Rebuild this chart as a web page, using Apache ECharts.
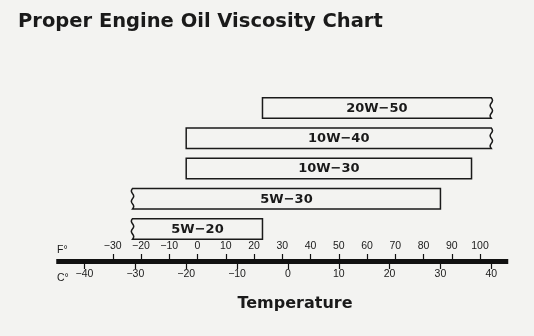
<!DOCTYPE html>
<html>
<head>
<meta charset="utf-8">
<script src="https://cdn.jsdelivr.net/npm/echarts@6/dist/echarts.min.js"></script>
<style>
  html, body { margin: 0; padding: 0; background: #f3f3f1; }
  #chart { width: 534px; height: 336px; }
</style>
</head>
<body>
<div id="chart"></div>
<script>
// Oil grades, listed bottom row first
const grades = ['5W-20', '5W-30', '10W-30', '10W-40', '20W-50'];
// Recommended ambient temperature range for each grade, in °F
const lowF  = [-23, -23, -4, -4, 23];
const highF = [23, 86, 97, 104, 104];
// Ranges that keep going past the drawn end (shown with a wavy edge)
const openLow  = [true, true, false, false, false];
const openHigh = [false, false, false, true, true];

// Scale labels
const fahrenheitTicks = [-30, -20, -10, 0, 10, 20, 30, 40, 50, 60, 70, 80, 90, 100];
const celsiusTicks = [-40, -30, -20, -10, 0, 10, 20, 30, 40];

// Visible temperature span of the scale, in °F
const spanF = [-50, 110];
const toC = f => (f - 32) / 1.8;

const INK = '#1a1a1a';
const LEFT = 56.25, WIDTH = 452;

function fmt(v) {
  return v < 0 ? '\u2212' + Math.abs(v) : String(v);
}

const rows = grades.map((g, i) => [i, lowF[i], highF[i], openLow[i] ? 1 : 0, openHigh[i] ? 1 : 0, g]);

// Wavy vertical edge from (x, yA) to (x, yB)
function wavyEdge(x, yA, yB, amp) {
  const pts = [];
  const n = 16;
  for (let k = 0; k <= n; k++) {
    const t = k / n;
    pts.push([x + amp * Math.sin(t * Math.PI * 4), yA + (yB - yA) * t]);
  }
  return pts;
}

function renderBar(params, api) {
  const row = api.value(0);
  const p0 = api.coord([api.value(1), row]);
  const p1 = api.coord([api.value(2), row]);
  const bandH = api.size([0, 1])[1];
  const h = bandH * 0.68;
  const top = p0[1] - h / 2, bottom = p0[1] + h / 2;
  const xl = p0[0], xr = p1[0];
  let pts = [[xl, top], [xr, top]];
  if (api.value(4)) pts = pts.concat(wavyEdge(xr, top, bottom, 1.2));
  else pts.push([xr, bottom]);
  pts.push([xl, bottom]);
  if (api.value(3)) pts = pts.concat(wavyEdge(xl, bottom, top, 1.2));
  return {
    type: 'group',
    children: [
      {
        type: 'polygon',
        shape: { points: pts },
        style: { fill: 'none', stroke: INK, lineWidth: 1.5, lineJoin: 'miter' }
      },
      {
        type: 'text',
        style: {
          x: (xl + xr) / 2,
          y: p0[1] + 0.5,
          text: grades[row].replace('-', '\u2212'),
          fontFamily: 'DejaVu Sans',
          fontWeight: 'bold',
          fontSize: 13,
          fill: INK,
          align: 'center',
          verticalAlign: 'middle'
        }
      }
    ]
  };
}

const chart = echarts.init(document.getElementById('chart'));
chart.setOption({
  backgroundColor: '#f3f3f1',
  animation: false,
  grid: [
    { left: LEFT, width: WIDTH, top: 93, height: 151 },
    { left: LEFT, width: WIDTH, top: 200, height: 61 }
  ],
  xAxis: [
    { gridIndex: 0, type: 'value', min: spanF[0], max: spanF[1], show: false },
    {
      gridIndex: 1, type: 'value', position: 'bottom',
      min: spanF[0], max: spanF[1],
      splitLine: { show: false },
      axisLine: { show: true, lineStyle: { color: '#111', width: 5, cap: 'butt' } },
      axisTick: { show: true, inside: true, length: 7, customValues: fahrenheitTicks,
                  lineStyle: { color: '#111', width: 1.2 } },
      axisLabel: { show: true, inside: true, margin: 9, customValues: fahrenheitTicks,
                   formatter: fmt, color: INK, fontSize: 10.5, fontFamily: 'Liberation Sans' }
    },
    {
      gridIndex: 1, type: 'value', position: 'bottom',
      min: toC(spanF[0]), max: toC(spanF[1]),
      splitLine: { show: false },
      axisLine: { show: false },
      axisTick: { show: true, inside: false, length: 8, customValues: celsiusTicks,
                  lineStyle: { color: '#111', width: 1.2 } },
      axisLabel: { show: true, inside: false, margin: 8, customValues: celsiusTicks,
                   formatter: fmt, color: INK, fontSize: 10.5, fontFamily: 'Liberation Sans' }
    }
  ],
  yAxis: [
    { gridIndex: 0, type: 'category', data: grades, show: false },
    { gridIndex: 1, type: 'value', show: false }
  ],
  series: [{
    type: 'custom',
    xAxisIndex: 0,
    yAxisIndex: 0,
    renderItem: renderBar,
    encode: { x: [1, 2], y: 0 },
    data: rows
  }],
  graphic: [
    {
      type: 'text', left: 18, top: 12,
      style: { text: 'Proper Engine Oil Viscosity Chart', fontFamily: 'DejaVu Sans',
               fontWeight: 'bold', fontSize: 19.5, fill: INK }
    },
    {
      type: 'text', left: 57, top: 245,
      style: { text: 'F\u00b0', fontFamily: 'Liberation Sans', fontSize: 10.5, fill: INK }
    },
    {
      type: 'text', left: 57, top: 273,
      style: { text: 'C\u00b0', fontFamily: 'Liberation Sans', fontSize: 10.5, fill: INK }
    },
    {
      type: 'text', x: 295, y: 304,
      style: { text: 'Temperature', fontFamily: 'DejaVu Sans', fontWeight: 'bold',
               fontSize: 16, fill: INK, align: 'center', verticalAlign: 'middle' }
    }
  ]
});
</script>
</body>
</html>
